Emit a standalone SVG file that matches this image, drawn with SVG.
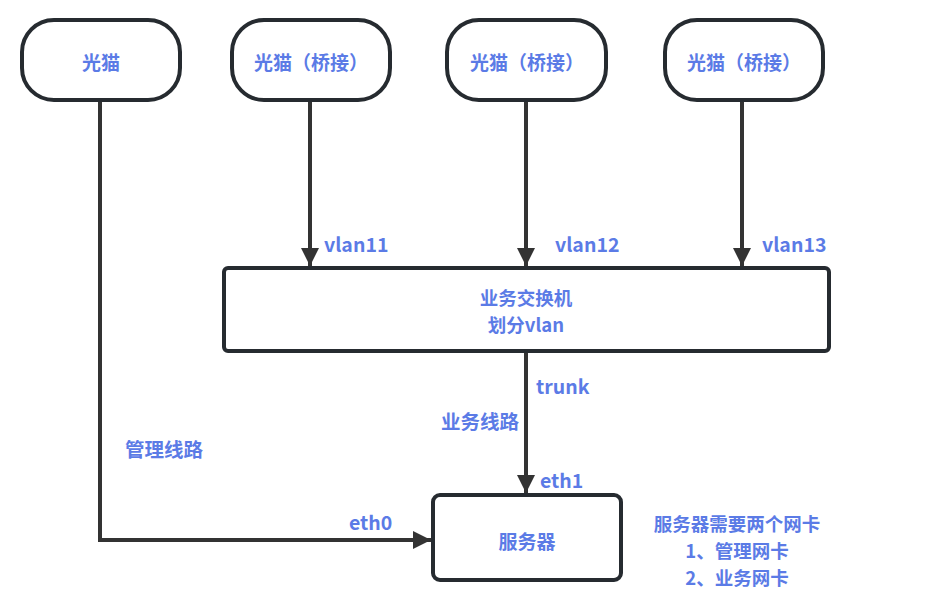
<svg xmlns="http://www.w3.org/2000/svg" width="928" height="605" viewBox="0 0 928 605">
<style>
.box{fill:#fff;stroke:#262b30;stroke-width:4}
.t{font-family:"Noto Sans CJK SC","Noto Sans",sans-serif;font-weight:bold;font-size:19px;fill:#5b7be6;text-anchor:middle;dominant-baseline:central}
.s{font-size:18.5px}
.l{font-family:"Noto Sans CJK SC","Noto Sans",sans-serif;font-weight:bold;font-size:19.5px;fill:#5b7be6;dominant-baseline:central}
.c{fill:none;stroke:#333;stroke-width:4}
</style>
<defs>
<marker id="a" markerUnits="userSpaceOnUse" markerWidth="20" markerHeight="18" refX="18" refY="9" orient="auto">
<path d="M0,0 L18,9 L0,18 Z" fill="#333"/>
</marker>
</defs>
<rect width="928" height="605" fill="#fff"/>
<g id="connectors">
<path class="c" d="M100,100 V540 H431" marker-end="url(#a)"/>
<path class="c" d="M310,100 V266" marker-end="url(#a)"/>
<path class="c" d="M526,100 V266" marker-end="url(#a)"/>
<path class="c" d="M742,100 V266" marker-end="url(#a)"/>
<path class="c" d="M526,351 V493" marker-end="url(#a)"/>
</g>
<g id="modem1"><rect class="box" x="22" y="20" width="158" height="80" rx="32"/><text class="t" x="101" y="61">光猫</text></g>
<g id="modem2"><rect class="box" x="232" y="20" width="158" height="80" rx="32"/><text class="t" x="311" y="61">光猫（桥接）</text></g>
<g id="modem3"><rect class="box" x="447" y="20" width="159" height="80" rx="32"/><text class="t" x="527" y="61">光猫（桥接）</text></g>
<g id="modem4"><rect class="box" x="665" y="20" width="158" height="80" rx="32"/><text class="t" x="744" y="61">光猫（桥接）</text></g>
<g id="switch"><rect class="box" x="224" y="268" width="605" height="83" rx="4"/><text class="t s" x="526" y="297">业务交换机</text><text class="t s" x="526" y="324">划分vlan</text></g>
<g id="server"><rect class="box" x="433" y="495" width="188" height="85" rx="7"/><text class="t" x="527" y="540">服务器</text></g>
<g id="labels">
<text class="l" x="324" y="243">vlan11</text>
<text class="l" x="555" y="243">vlan12</text>
<text class="l" x="762" y="243">vlan13</text>
<text class="l" x="536" y="385">trunk</text>
<text class="l" x="519" y="420" text-anchor="end">业务线路</text>
<text class="l" x="540" y="479">eth1</text>
<text class="l" x="349" y="521">eth0</text>
<text class="l" x="125" y="448">管理线路</text>
<text class="t s" x="737" y="523">服务器需要两个网卡</text>
<text class="t s" x="737" y="550">1、管理网卡</text>
<text class="t s" x="737" y="577">2、业务网卡</text>
</g>
</svg>
